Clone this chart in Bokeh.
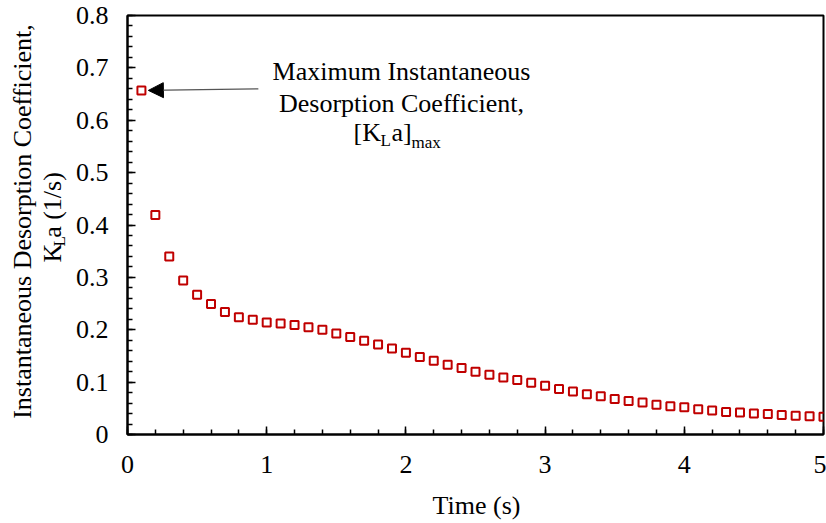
import math
import numpy as np
from bokeh.plotting import figure
from bokeh.layouts import row, column
from bokeh.core.properties import value
from bokeh.models import (Range1d, FixedTicker, Label, Arrow, NormalHead,
                          ColumnDataSource)
from bokeh.embed import file_html
from bokeh.resources import INLINE

# --- data -------------------------------------------------------------
time_s = [0.1, 0.2, 0.3, 0.4, 0.5, 0.6, 0.7, 0.8, 0.9, 1.0,
          1.1, 1.2, 1.3, 1.4, 1.5, 1.6, 1.7, 1.8, 1.9, 2.0,
          2.1, 2.2, 2.3, 2.4, 2.5, 2.6, 2.7, 2.8, 2.9, 3.0,
          3.1, 3.2, 3.3, 3.4, 3.5, 3.6, 3.7, 3.8, 3.9, 4.0,
          4.1, 4.2, 4.3, 4.4, 4.5, 4.6, 4.7, 4.8, 4.9, 5.0]
kla = [0.657, 0.419, 0.340, 0.294, 0.267, 0.249, 0.234, 0.224, 0.219, 0.214,
       0.212, 0.209, 0.205, 0.200, 0.193, 0.186, 0.179, 0.172, 0.164, 0.156,
       0.148, 0.141, 0.133, 0.127, 0.120, 0.114, 0.109, 0.104, 0.099, 0.093,
       0.087, 0.082, 0.077, 0.073, 0.068, 0.064, 0.061, 0.057, 0.054, 0.052,
       0.048, 0.046, 0.043, 0.042, 0.040, 0.039, 0.037, 0.036, 0.035, 0.034]

x_ticks = [0, 1, 2, 3, 4, 5]
x_tick_labels = ["0", "1", "2", "3", "4", "5"]
y_ticks = [0, 0.1, 0.2, 0.3, 0.4, 0.5, 0.6, 0.7, 0.8]
y_tick_labels = ["0", "0.1", "0.2", "0.3", "0.4", "0.5", "0.6", "0.7", "0.8"]

FONT = "Liberation Serif"
FS = "26px"
SUB = "17px"
RED = "#C00000"
W = 826
H_MAIN = 490          # height of the plot row
H_XT = 523 - H_MAIN   # strip under the plot with the x title
W_YT = 70             # strip left of the plot with the rotated y title


def strip(w, h):
    s = figure(width=w, height=h, x_range=Range1d(0, w), y_range=Range1d(h, 0),
               x_axis_type=None, y_axis_type=None,
               output_backend="svg", toolbar_location=None,
               min_border=0, min_border_left=0, min_border_right=0,
               min_border_top=0, min_border_bottom=0)
    s.grid.visible = False
    s.outline_line_color = None
    s.background_fill_color = "white"
    s.border_fill_color = "white"
    return s


# --- main plot ------------------------------------------------------------
p = figure(width=W - W_YT, height=H_MAIN,
           x_range=Range1d(0, 5), y_range=Range1d(0, 0.8),
           output_backend="svg", toolbar_location=None,
           min_border_left=127 - W_YT, min_border_right=3,
           min_border_top=15, min_border_bottom=H_MAIN - 434)
p.grid.visible = False
p.background_fill_color = "white"
p.border_fill_color = "white"
p.outline_line_color = "black"
p.outline_line_width = 2
p.outline_line_alpha = 1.0

src = ColumnDataSource(dict(t=time_s, k=kla))
p.scatter("t", "k", source=src, marker="square", size=8,
          fill_color=None, line_color=RED, line_width=2)

xa = p.xaxis[0]
xa.ticker = FixedTicker(ticks=x_ticks,
                        minor_ticks=[round(v, 2) for v in np.arange(0, 5.001, 0.2)])
xa.major_label_overrides = {t: l for t, l in zip(x_ticks, x_tick_labels)}

ya = p.yaxis[0]
ya.ticker = FixedTicker(ticks=y_ticks,
                        minor_ticks=[round(v, 2) for v in np.arange(0, 0.8001, 0.02)])
ya.major_label_overrides = {t: l for t, l in zip(y_ticks, y_tick_labels)}

for ax in (xa, ya):
    ax.axis_line_color = "black"
    ax.axis_line_width = 2
    ax.major_tick_in = 8
    ax.major_tick_out = 0
    ax.minor_tick_in = 5
    ax.minor_tick_out = 0
    ax.major_tick_line_width = 1.5
    ax.minor_tick_line_width = 1.5
    ax.major_tick_line_color = "black"
    ax.minor_tick_line_color = "black"
    ax.major_label_text_font = FONT
    ax.major_label_text_font_size = FS
    ax.major_label_text_color = "black"
xa.major_label_standoff = 21
ya.major_label_standoff = 19


def lab(text, x, y, size=FS, align="left"):
    # x, y: page pixels from the top-left corner
    p.add_layout(Label(x=x - W_YT, y=y, x_units="canvas", y_units="canvas",
                       text=text, text_font=FONT, text_font_size=size,
                       text_color="black", text_align=align,
                       text_baseline="alphabetic"))


# callout for the peak value
lab("Maximum Instantaneous", 401, 71, align="center")
lab("Desorption Coefficient,", 401, 103, align="center")
lab("[K", 353, 132)
lab("L", 380, 140, size=SUB)
lab("a]", 391, 132)
lab("max", 411, 142, size=SUB)

p.add_layout(Arrow(x_start=0.94, y_start=kla[0] + 0.003,
                   x_end=time_s[0] + 0.05, y_end=kla[0],
                   line_color="#555555", line_width=1.2,
                   end=NormalHead(size=15, fill_color="black",
                                  line_color="black")))

# --- rotated y title --------------------------------------------------------
yt = strip(W_YT, H_MAIN)
rot = math.pi / 2
yt.text(x=[22], y=[241], text=["Instantaneous Desorption Coefficient,"],
        angle=rot, text_font=value(FONT), text_font_size=value(FS),
        text_color="black", text_align="center", text_baseline="alphabetic")
yt.text(x=[52, 52], y=[289, 260], text=["K", "a (1/s)"],
        angle=rot, text_font=value(FONT), text_font_size=value(FS),
        text_color="black", text_align="left", text_baseline="alphabetic")
yt.text(x=[59], y=[270], text=["L"],
        angle=rot, text_font=value(FONT), text_font_size=value(SUB),
        text_color="black", text_align="left", text_baseline="alphabetic")

# --- x title ------------------------------------------------------------------
xt = strip(W, H_XT)
xt.text(x=[476], y=[15], text=["Time (s)"],
        text_font=value(FONT), text_font_size=value(FS),
        text_color="black", text_align="center", text_baseline="alphabetic")

layout = column(row(yt, p, spacing=0), xt, spacing=0)
open("out.html", "w").write(file_html(layout, INLINE))
